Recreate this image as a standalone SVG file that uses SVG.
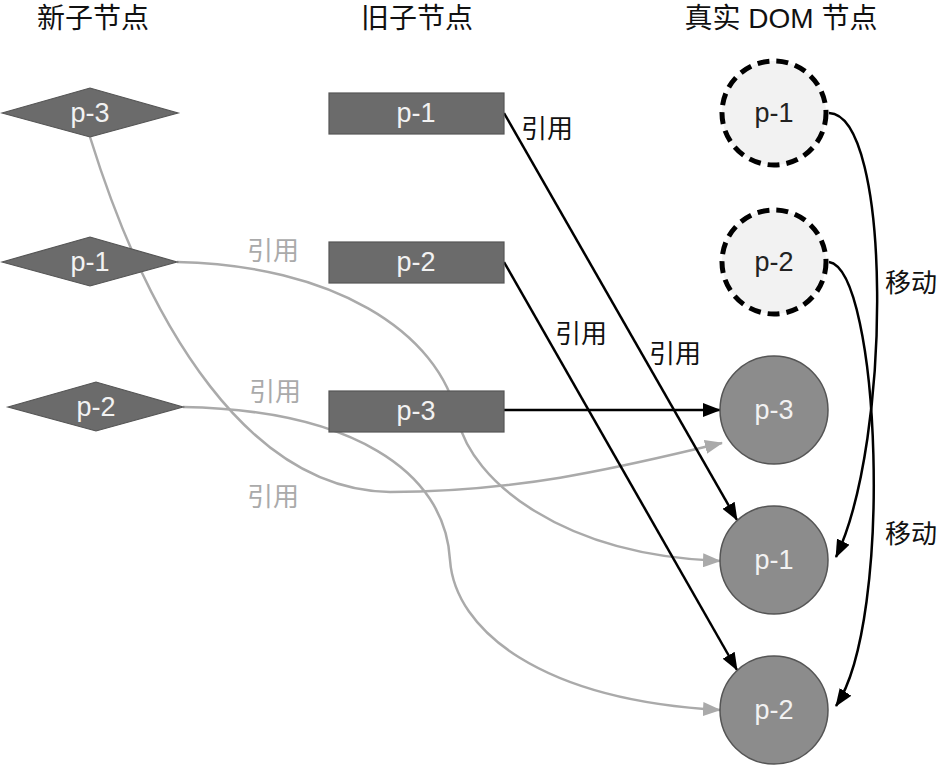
<svg xmlns="http://www.w3.org/2000/svg" width="942" height="765" viewBox="0 0 942 765">
<style>
.hdr{font-family:"Liberation Sans","Noto Sans CJK SC",sans-serif;font-size:28px;fill:#111;text-anchor:middle}
.lbl{font-family:"Noto Sans CJK SC",sans-serif;font-size:26px;fill:#111}
.glbl{font-family:"Noto Sans CJK SC",sans-serif;font-size:26px;fill:#aaa}
.nt{font-family:"Liberation Sans",Arial,sans-serif;font-size:27px;fill:#f2f2f2;text-anchor:middle;dominant-baseline:central}
.dt{font-family:"Liberation Sans",Arial,sans-serif;font-size:27px;fill:#222;text-anchor:middle;dominant-baseline:central}
.dark{fill:#6b6b6b;stroke:#555;stroke-width:1.2}
.dash{fill:#f2f2f2;stroke:#000;stroke-width:5;stroke-dasharray:12 7}
.full{fill:#8c8c8c;stroke:#555;stroke-width:1.5}
.bk{fill:none;stroke:#000;stroke-width:2.5}
.gy{fill:none;stroke:#aaa;stroke-width:2.5}
</style>
<defs>
<marker id="ab" markerUnits="userSpaceOnUse" markerWidth="18" markerHeight="14" viewBox="0 0 18 14" refX="17" refY="7" orient="auto">
<path d="M0,0 L18,7 L0,14 Z" fill="#000"/>
</marker>
<marker id="ag" markerUnits="userSpaceOnUse" markerWidth="18" markerHeight="14" viewBox="0 0 18 14" refX="17" refY="7" orient="auto">
<path d="M0,0 L18,7 L0,14 Z" fill="#aaa"/>
</marker>
</defs>
<g id="headers">
<text class="hdr" x="93" y="28">新子节点</text>
<text class="hdr" x="417" y="28">旧子节点</text>
<text class="hdr" x="781" y="28">真实 DOM 节点</text>
</g>
<g id="connectors">
<path class="gy" marker-end="url(#ag)" d="M90,137 C150,330 250,490 390,492 C530,492 640,462 722,443"/>
<path class="gy" marker-end="url(#ag)" d="M177,262 C330,265 440,330 458,420 C472,480 560,555 720,561"/>
<path class="gy" marker-end="url(#ag)" d="M183,407 C350,410 445,470 450,560 C455,630 540,700 720,710"/>
<path class="bk" marker-end="url(#ab)" d="M504,113 L737,520"/>
<path class="bk" marker-end="url(#ab)" d="M504,262 L737,670"/>
<path class="bk" marker-end="url(#ab)" d="M504,410 L720,410"/>
<path class="bk" marker-end="url(#ab)" d="M829,113 C892,115 892,440 836,557"/>
<path class="bk" marker-end="url(#ab)" d="M829,262 C880,270 894,620 836,706"/>
<text class="lbl" x="521" y="138">引用</text>
<text class="lbl" x="555" y="343">引用</text>
<text class="lbl" x="649" y="363">引用</text>
<text class="glbl" x="247" y="260">引用</text>
<text class="glbl" x="249" y="401">引用</text>
<text class="glbl" x="247" y="506">引用</text>
<text class="lbl" x="885" y="292">移动</text>
<text class="lbl" x="885" y="543">移动</text>
</g>
<g id="new-p3"><polygon class="dark" points="2,113 90,88 178,113 90,137"/><text class="nt" x="90" y="113">p-3</text></g>
<g id="new-p1"><polygon class="dark" points="2,262 90,237 177,262 90,286"/><text class="nt" x="90" y="262">p-1</text></g>
<g id="new-p2"><polygon class="dark" points="8,407 96,382 183,407 96,431"/><text class="nt" x="96" y="407">p-2</text></g>
<g id="old-p1"><rect class="dark" x="329" y="93" width="175" height="41"/><text class="nt" x="416" y="113">p-1</text></g>
<g id="old-p2"><rect class="dark" x="329" y="242" width="175" height="41"/><text class="nt" x="416" y="262">p-2</text></g>
<g id="old-p3"><rect class="dark" x="329" y="391" width="175" height="41"/><text class="nt" x="416" y="411">p-3</text></g>
<g id="dom-p1-old"><circle class="dash" cx="774" cy="113" r="52"/><text class="dt" x="774" y="113">p-1</text></g>
<g id="dom-p2-old"><circle class="dash" cx="774" cy="262" r="52"/><text class="dt" x="774" y="262">p-2</text></g>
<g id="dom-p3"><circle class="full" cx="774" cy="410" r="54"/><text class="nt" x="774" y="410">p-3</text></g>
<g id="dom-p1"><circle class="full" cx="774" cy="560" r="54"/><text class="nt" x="774" y="560">p-1</text></g>
<g id="dom-p2"><circle class="full" cx="774" cy="710" r="54"/><text class="nt" x="774" y="710">p-2</text></g>
</svg>
